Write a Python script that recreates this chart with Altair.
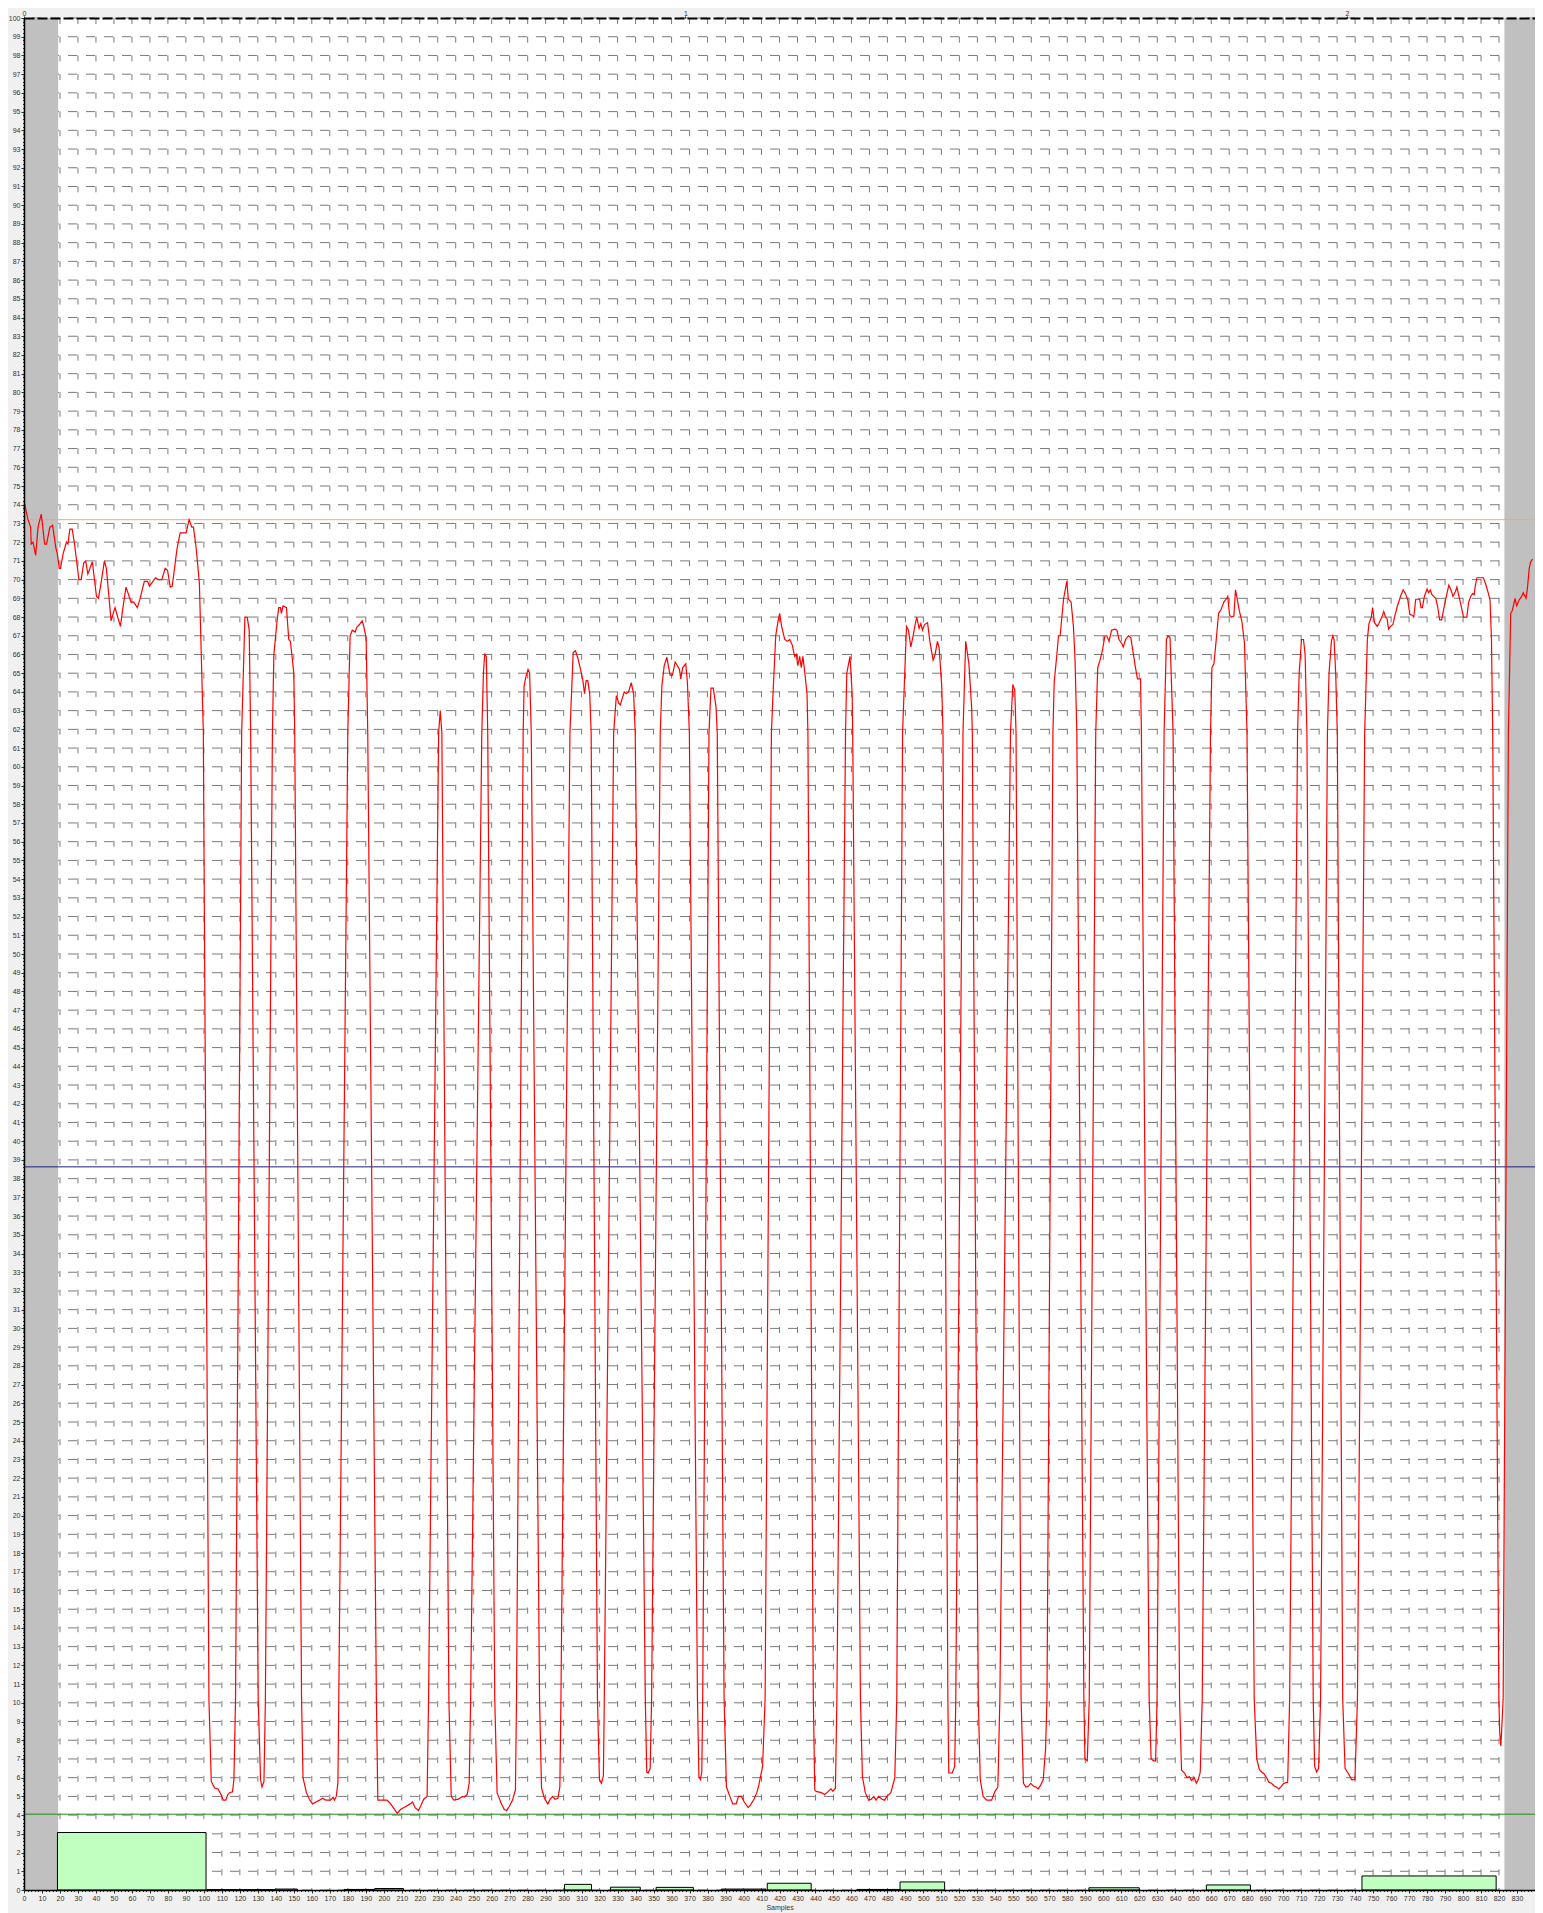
import altair as alt
import pandas as pd

# ---- red trace (sample, value) ----
sample_x = [0, 2.2, 3.7, 4, 5, 6.5, 7.8, 9.6, 11.5, 12.5, 14.4, 15.9, 17.7, 18.5, 19.6, 20.3, 21.8, 23.6, 24.4, 25.5,
            26.8, 28.1, 30.5, 31.8, 33.2, 34.3, 35.5, 38, 40.3, 41.4, 42.8, 44.7, 45.8, 48.4, 50.6, 53.6, 55, 56.7, 59.5, 61,
            63, 64.3, 66.9, 68.7, 69.8, 73.1, 74.6, 76.6, 78.5, 79.8, 81.3, 82.4, 85, 86.8, 90.1, 91.8, 93.3, 94.2, 95.7, 97.5,
            99.7, 102.8, 104.1, 106, 107.9, 109.5, 110.8, 112.2, 113.3, 114.3, 115.9, 116.7, 117.6,
            121.0, 122.8, 124.1, 125.2, 126, 130.2, 131.5, 132.3, 133.4, 134.2,
            138.1, 138.9, 140.7, 141.6, 142.6, 143.1, 144, 145.9, 147.2, 148.1, 150, 150.5,
            154.3, 155.1, 157, 158.9, 160.5, 162.4, 164.3, 165.9, 167.7, 170.4, 171.8, 172.6, 173.6, 174.5, 175,
            180, 181.3, 182.5, 184.1, 185, 186.5, 188, 188.9, 190.2, 191.1,
            195.9, 196.7, 199.9, 201.8, 203.4, 205.3, 207.5, 209.3, 212, 214.7, 216, 217.4, 219.3, 220.6, 222.2, 224.1, 224.9,
            230.5, 231.4, 232.3,
            236.2, 237.5, 238.9, 241.5, 243.7, 244.8, 246.4, 247.5, 248.3,
            254.5, 255.4, 256.1, 257, 257.8,
            261.7, 263, 265.2, 267, 268.4, 269.7, 271.6, 273.2, 273.8,
            277.5, 278, 279, 280.2, 281.1, 282,
            286.6, 287.7, 289.3, 291.2, 292.5, 293.9, 295.2, 296.8, 297.9, 298.5,
            303.5, 305.3, 306.6, 307.9, 309.4, 310.7, 311.6, 312.5, 313.4, 314.5, 315.3,
            318.8, 319.9, 321, 322.1, 322.6,
            327.8, 329.3, 330.6, 331.5, 332.4, 333.7, 334.8, 336.1, 337.6, 338.9, 339.8,
            345.4, 346.2, 347, 348.1, 348.9,
            353.7, 354.6, 355.9, 357.4, 358.3, 359.2, 360.5, 362, 363.3, 364.4, 365.1, 366.2, 367.9, 368.8, 369.9,
            374.4, 375.2, 376, 376.8, 377.3,
            380.8, 381.9, 383.2, 384.7, 385.4,
            389.2, 390.5, 392.4, 394, 395.9, 397.2, 398.8, 400.4, 402.6, 403.9, 405.8, 407.4, 408.5, 410.6, 412,
            415.5, 416.4, 417.9, 419.2, 420.1, 421.2, 422.9, 424.4, 425.7, 427.1, 428.4, 429.3, 430.2, 431.2, 432.1, 433,
            434.1, 435.3, 435.8,
            438.8, 439.6, 440.4, 443.2, 445.1, 446.4, 448.6, 449.7, 451.1, 451.9,
            456.7, 457.4, 459.2, 460.4, 460.7,
            465, 466.1, 467.7, 469.6, 471, 472.4, 473.7, 475.1, 477, 478.4, 479.7, 481.9, 484.1, 485.2,
            488.4, 490.6, 491.7, 493, 494.3, 495.4, 496.3, 497.6, 498.6, 499.5, 500.6, 502.3, 503.6, 505.4, 506.5, 507.8,
            508.7, 510.2, 510.9,
            513.6, 514.1, 516, 517.4, 518,
            522, 523.5, 525.3, 526.8, 527.2,
            530.5, 531.6, 533.2, 535.2, 537.9, 539.8, 541.4, 542.5,
            548.4, 549.7, 550.8, 551.5,
            554.3, 555.6, 557, 558.4, 559.7, 561.1, 562.5, 563.8, 565.2, 566.6, 567.9, 568.7,
            572, 572.7, 574.2, 575.1, 576, 577.9, 579.7, 580.6, 582.1, 583.4, 584.3, 585.3,
            589.2, 589.8, 591.1, 592.2,
            595.8, 596.9, 598.2, 599.5, 600.9, 602, 603.2, 604.6, 606.5, 607.6, 608.7, 610.2, 611.1, 612.4, 613.9, 615.3,
            616.6, 617.9, 619, 620.7, 621.2,
            625.5, 626.6, 628, 629.1, 629.9,
            633.8, 635.1, 636, 637.1, 638.8,
            642.4, 643.5, 645.2, 646.5, 647.9, 649, 650.6, 651.7, 652.8, 653.9, 655,
            659.6, 660.4, 661.5, 662.8, 664.1, 665.5, 667, 667.8, 668.7, 669.2, 670.2, 671.1, 672.6, 673.5, 674.4, 675.7,
            677, 678.5, 679.9,
            683.9, 685.3, 686.7, 688, 689.4, 690.8, 692.1, 693.5, 694.9, 696.2, 697.6, 699, 700.3, 702.5, 703.6,
            708, 708.9, 710.2, 711.3, 712.2, 713.2,
            716.7, 717.5, 718.6, 719.7, 720.8,
            724.6, 725.5, 726.8, 727.6, 728.3, 729.2, 730.1,
            733.1, 734.4, 736.4, 738, 739.9, 741.3,
            745.3, 746.8, 747.7, 749, 749.7, 750.8, 752.3, 753.2, 755.1, 755.9, 756.9, 757.8, 758.6, 759.7, 761, 761.9,
            763.4, 765.2, 766.7, 768, 769.3, 770.4, 771.7, 772.6, 773.7, 774.8, 775.9, 776.6, 777.4, 778.5, 780, 780.9,
            781.8, 782.7, 783.7, 784.8, 785.9, 787, 788.1, 789.2, 790.7, 792.1, 793.3, 794.4, 795.7, 796.6, 797.5, 798.8,
            800.3, 802.1, 803.1, 804.3, 805.3, 806.2, 806.7, 807.7, 809.5, 811.3, 812.8, 814.1, 815, 815.8, 816.5,
            819.9, 820.4, 821, 821.5, 822.3,
            825.2, 826.5, 827.4, 828.9, 829.8, 831.1, 832.6, 833.5, 835, 835.7, 836.8, 837.6, 838.7]

value_y = [74.2, 73.2, 72.8, 71.9, 72.0, 71.3, 72.8, 73.5, 71.9, 71.9, 72.8, 72.9, 71.7, 71.4, 70.6, 70.6, 71.4, 72.0, 71.9, 72.7,
           72.7, 71.9, 70.0, 70.0, 70.9, 71.0, 70.3, 70.95, 69.1, 69.0, 69.8, 71.0, 70.6, 67.8, 68.5, 67.5, 68.5, 69.6, 68.8, 68.8,
           68.5, 68.9, 69.9, 69.9, 69.65, 70.1, 70.0, 70.0, 70.6, 70.5, 69.6, 69.65, 71.6, 72.5, 72.5, 73.2, 72.8, 72.8, 71.7, 69.8,
           61.8, 10.2, 5.8, 5.45, 5.4, 5.1, 4.8, 4.8, 5.1, 5.2, 5.25, 5.9, 10.2,
           61.8, 68.0, 68.0, 67.3, 61.8, 10.2, 5.9, 5.5, 5.8, 10.2,
           61.8, 66.0, 67.8, 68.5, 68.5, 68.2, 68.6, 68.5, 66.8, 66.7, 65, 61.8,
           10.2, 6, 5.2, 4.8, 4.6, 4.7, 4.8, 4.9, 4.8, 4.8, 4.95, 4.8, 5, 5.7, 10.2,
           61.8, 67, 67.3, 67.2, 67.45, 67.6, 67.8, 67.5, 66.9, 61.8,
           10.2, 4.8, 4.8, 4.8, 4.65, 4.4, 4.1, 4.3, 4.45, 4.6, 4.7, 4.4, 4.25, 4.5, 4.85, 5, 10.2,
           61.8, 63.0, 61.8,
           10.2, 5, 4.8, 4.85, 5, 4.97, 5.1, 5.7, 10.2,
           61.8, 65, 66.0, 65.9, 61.8,
           10.2, 5.2, 4.65, 4.3, 4.25, 4.45, 4.8, 5.35, 10.2,
           61.8, 64.3, 64.8, 65.2, 65, 61.8,
           10.2, 5.45, 4.9, 4.6, 4.85, 5, 4.85, 4.9, 5.5, 10.2,
           61.8, 66.1, 66.2, 65.8, 65.2, 64.6, 63.9, 64.6, 64.6, 63.9, 61.8,
           10.2, 5.9, 5.7, 6.1, 10.2,
           61.8, 63.8, 63.4, 63.3, 63.6, 64, 63.9, 64, 64.5, 63.9, 61.8,
           10.2, 6.3, 6.25, 6.5, 10.2,
           61.8, 64.3, 65.4, 65.85, 65.35, 64.9, 64.9, 65.6, 65.4, 65.2, 64.7, 65.3, 65.5, 64.5, 61.8,
           10.2, 6.05, 5.9, 6.3, 10.2,
           61.8, 64.2, 64.2, 63.2, 61.8,
           10.2, 5.5, 5, 4.6, 4.6, 5, 5, 4.7, 4.4, 4.55, 4.85, 5.2, 5.6, 6.6, 10.2,
           61.8, 63.9, 67, 67.8, 68.2, 67.5, 66.8, 66.7, 66.8, 66.5, 65.9, 66, 65.4, 65.9, 65.3, 65.9,
           65, 63.9, 61.8,
           10.2, 5.35, 5.27, 5.2, 5.1, 5.2, 5.4, 5.27, 5.45, 10.2,
           61.8, 65, 65.9, 63.9, 61.8,
           10.2, 6.05, 5.2, 4.8, 4.85, 5, 4.8, 5, 4.85, 4.8, 5, 5.2, 6, 10.2,
           61.8, 67.5, 67.3, 66.4, 67, 67.6, 68, 67.4, 67.65, 67.3, 67.6, 67.7, 66.7, 65.7, 66, 66.7,
           66.4, 64.3, 61.8,
           10.2, 6.25, 6.25, 6.6, 10.2,
           61.8, 66.7, 65.5, 63.2, 61.8,
           10.2, 5.9, 5, 4.8, 4.8, 5.27, 5.5, 10.2,
           61.8, 64.4, 64.1, 61.8,
           10.2, 5.7, 5.5, 5.55, 5.7, 5.55, 5.5, 5.4, 5.6, 5.9, 7.5, 10.2,
           61.8, 64.5, 66, 67, 67, 68.95, 69.9, 68.95, 68.8, 67.5, 65.7, 61.8,
           10.2, 7, 6.9, 10.2,
           61.8, 65.3, 65.7, 66.2, 67, 67, 66.7, 67.3, 67.35, 67.3, 66.8, 66.6, 66.4, 66.8, 67, 66.9,
           66.1, 65.3, 64.7, 64.7, 61.8,
           10.2, 7, 6.9, 6.9, 10.2,
           61.8, 66.8, 67, 66.9, 61.8,
           10.2, 6.4, 6.25, 6, 6.05, 5.85, 6, 5.7, 5.9, 6.3, 10.2,
           61.8, 65.3, 65.5, 66.8, 68.2, 68.4, 68.8, 68.9, 69, 69.1, 68.1, 68, 68.05, 69.45, 69, 68.3,
           67.8, 66.6, 61.8,
           10.2, 7, 6.45, 6.3, 6.2, 6, 5.75, 5.7, 5.57, 5.5, 5.4, 5.53, 5.7, 5.75, 10.2,
           61.8, 65, 66.8, 66.8, 66, 61.8,
           10.2, 6.6, 6.3, 6.5, 10.2,
           61.8, 65, 66.7, 67, 66.8, 65, 61.8,
           10.2, 6.5, 6.2, 5.9, 5.9, 10.2,
           61.8, 66.8, 67.65, 68, 68.5, 67.7, 67.5, 67.65, 68.05, 68.3, 68, 67.9, 67.35, 67.5, 67.6, 68,
           68.55, 69.1, 69.45, 69.25, 68.9, 68.15, 68.1, 68, 68.95, 68.95, 68.95, 68.5, 68.5, 69.1, 69.5, 69.3,
           69.45, 69.2, 69.1, 69, 68.55, 67.85, 67.85, 68.4, 69.1, 69.7, 69.45, 69.1, 69.35, 69.6, 69.2, 68.65,
           68, 68, 68.8, 69.1, 69.25, 69.2, 69.6, 70.1, 70.1, 70.1, 69.7, 69.25, 68.9, 66.8, 61.8,
           10.2, 8.4, 7.7, 8.6, 10.2,
           61.8, 68.2, 68.35, 69, 68.6, 68.9, 69.1, 69.3, 69, 69.45, 70.6, 70.95, 71.1]

# ---- shaded (excluded) sample ranges ----
gray_start = [0, 823]
gray_end = [19, 840]

# ---- green bars along the bottom ----
bar_start = [18.6, 101.7, 139.6, 178, 195, 300.5, 326, 351.4, 387.6, 413.2, 463, 487, 592, 657.3, 743.8]
bar_end = [101.2, 139.6, 152, 195, 211, 315.5, 342.6, 372.1, 412.5, 437.6, 487, 511.8, 620, 681.8, 818.4]
bar_height = [3.07, 0.02, 0.05, 0.03, 0.08, 0.3, 0.15, 0.14, 0.05, 0.36, 0.03, 0.43, 0.12, 0.27, 0.75]

# ---- horizontal reference lines ----
ref_values = [73.2, 38.63, 4.05]
ref_colors = ["#ffa07a", "#1c1c80", "#1e8c1e"]

# ---- ticks / grid ----
x_ticks = list(range(0, 839, 2))
y_ticks = [i / 5 for i in range(501)]
x_grid = list(range(0, 841, 10))
y_grid = list(range(0, 101))
top_ticks = [0, 367.7, 735.4]
top_labels = ["0", "1", "2"]

W, H = 1511, 1872
FONT = "Liberation Sans"
LBL = "#333333"

line_df = pd.DataFrame({"s": sample_x, "v": value_y, "i": list(range(len(sample_x)))})
gray_df = pd.DataFrame({"x0": gray_start, "x1": gray_end})
bar_df = pd.DataFrame({"x0": bar_start, "x1": bar_end, "h": bar_height, "b": [0] * len(bar_start)})
ref_df = pd.DataFrame({"v": ref_values, "c": ref_colors})
top_df = pd.DataFrame({"t": top_ticks})

xs = alt.Scale(domain=[0, 840], nice=False, zero=False)
ys = alt.Scale(domain=[0, 100], nice=False, zero=False)

x_axis = alt.Axis(
    values=x_ticks,
    labelExpr="datum.value % 10 === 0 ? format(datum.value, 'd') : ''",
    labelOverlap=False, labelFlush=False, labelFont=FONT, labelFontSize=7, labelColor=LBL, labelPadding=1,
    tickColor="#333333", tickWidth=1, tickSize=3,
    tickDash={"condition": {"test": "datum.value % 10 === 0", "value": [3, 0]}, "value": [1.5, 10]},
    grid=False, domainColor="black", domainWidth=1.5,
    titleFont=FONT, titleFontSize=7, titleFontWeight="normal", titleColor=LBL, titlePadding=2,
    zindex=1,
)
y_axis = alt.Axis(
    orient="left",
    values=y_ticks,
    labelExpr="datum.value % 1 === 0 ? format(datum.value, 'd') : ''",
    labelOverlap=False, labelFlush=False, labelFont=FONT, labelFontSize=7, labelColor=LBL, labelPadding=1,
    tickColor="#333333", tickWidth=1, tickSize=3,
    tickDash={"condition": {"test": "datum.value % 1 === 0", "value": [3, 0]}, "value": [1.5, 10]},
    grid=False, domainColor="black", domainWidth=1.5, zindex=1,
)
top_axis = alt.Axis(
    orient="top", values=top_ticks,
    labelExpr="%s[indexof(%s, datum.value)]" % (str(top_labels), str(top_ticks)),
    labelOverlap=False, labelFlush=False, labelFont=FONT, labelFontSize=7, labelColor=LBL, labelPadding=0,
    tickColor="#333333", tickSize=2, grid=False,
    domainColor="black", domainWidth=2, domainDash=[10, 3], zindex=1,
)

grid_v = alt.Chart(pd.DataFrame({"g": x_grid})).mark_rule(
    color="#7a7a7a", strokeWidth=1, strokeDash=[6, 12.7]
).encode(x=alt.X("g:Q", scale=xs, axis=None))

grid_h = alt.Chart(pd.DataFrame({"g": y_grid})).mark_rule(
    color="#7a7a7a", strokeWidth=1, strokeDash=[9, 9]
).encode(y=alt.Y("g:Q", scale=ys, axis=None))

gray = alt.Chart(gray_df).mark_rect(color="#c0c0c0").encode(
    x=alt.X("x0:Q", scale=xs, axis=None), x2="x1:Q"
)

bars = alt.Chart(bar_df).mark_rect(fill="#c0ffc0", stroke="#000000", strokeWidth=1).encode(
    x=alt.X("x0:Q", scale=xs, axis=None), x2="x1:Q",
    y=alt.Y("h:Q", scale=ys, axis=None), y2="b:Q",
)

refs = alt.Chart(ref_df).mark_rule(strokeWidth=1).encode(
    y=alt.Y("v:Q", scale=ys, axis=None), color=alt.Color("c:N", scale=None)
)

line = alt.Chart(line_df).mark_line(color="#ff0000", strokeWidth=1.2).encode(
    x=alt.X("s:Q", scale=xs, axis=x_axis, title="Samples"),
    y=alt.Y("v:Q", scale=ys, axis=y_axis, title=None),
    order=alt.Order("i:Q"),
)

top = alt.Chart(top_df).mark_point(opacity=0).encode(
    x=alt.X("t:Q", scale=xs, axis=top_axis, title=None)
)

chart = alt.layer(grid_v, grid_h, gray, bars, refs, line, top).resolve_axis(
    x="independent", y="independent"
).properties(
    width=W, height=H,
    autosize=alt.AutoSizeParams(type="none"),
    padding={"left": 16, "top": 10, "right": 0, "bottom": 23},
    background="#f0f0f0",
).configure_view(fill="white", strokeWidth=0)

chart.save("out.html", embed_options={"renderer": "svg", "actions": False})
